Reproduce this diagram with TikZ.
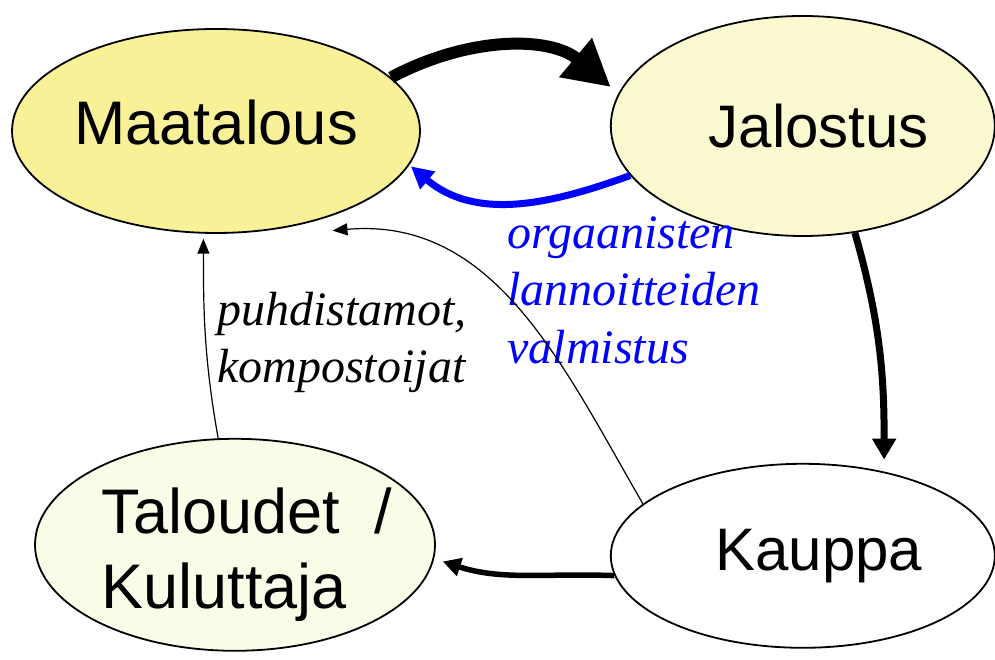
\documentclass[tikz,border=0pt]{standalone}
\usepackage{fontspec}
\setmainfont{Liberation Serif}
\setsansfont{Liberation Sans}
\usepackage{xcolor}
\usetikzlibrary{arrows.meta, positioning, calc, shapes.geometric}

\definecolor{farmfill}{RGB}{248,241,152}
\definecolor{procfill}{RGB}{251,249,208}
\definecolor{homefill}{RGB}{250,252,232}

\begin{document}
\begin{tikzpicture}[
		x=1pt, y=1pt,
		node distance=20pt and 20pt,
		sector/.style={ellipse, draw=black, line width=1.8pt, inner sep=0pt, align=center, font=\sffamily\fontsize{60}{75}\selectfont},
		note/.style={inner sep=0pt, align=left, font=\rmfamily\itshape\fontsize{48}{57.5}\selectfont},
		heavy/.style={line width=12pt, -{Triangle[length=46pt, width=48pt]}},
		flow/.style={line width=7pt, -{Triangle[length=22pt, width=22pt]}},
		thinflow/.style={line width=1.2pt, -{Triangle[length=15pt, width=12pt]}}
		]
		\useasboundingbox (0,0) rectangle (995,660);
		
		% Four sectors
		\node[sector, fill=farmfill, minimum width=408pt, minimum height=204pt, text depth=17pt, font=\sffamily\fontsize{61.5}{75}\selectfont] (maa) at (216,529) {Maatalous};
		\node[sector, fill=procfill, minimum width=384pt, minimum height=220pt, right=189pt of maa, yshift=5pt] (jal) {\hspace*{32pt}Jalostus};
		\node[sector, fill=white, minimum width=384pt, minimum height=184pt, below=226pt of jal] (kau) {\hspace*{32pt}Kauppa};
		\node[sector, fill=homefill, minimum width=400pt, minimum height=212pt, left=174pt of kau, yshift=11pt, align=left, inner xsep=-20pt, inner ysep=-6pt, text height=141pt, font=\sffamily\fontsize{63}{75}\selectfont] (tal) {\hspace*{24pt}Taloudet\ \ /\\\hspace*{24pt}Kuluttaja};
		
		% Labels
		\node[note] (puh) at (342,317.5) {puhdistamot,\\kompostoijat};
		\node[note, text=blue] (org) at (634,370) {orgaanisten\\lannoitteiden\\valmistus};
		
		% Main cycle
		\draw[heavy, shorten >=10pt] (maa.17) to[out=28, in=140] (jal.170);
		\draw[flow, blue, shorten >=2pt] (jal.196) to[out=200, in=-40] (maa.350);
		\draw[flow, -{Triangle[length=21pt, width=23pt]}, shorten >=12pt] (jal.296) to[out=-74, in=90] (kau.46);
		\draw[flow, line width=5.5pt, -{Triangle[length=18pt, width=18pt]}, shorten >=9pt] (kau.186) to[out=178, in=-18] (tal.356);
		
		% Return flows
		\draw[thinflow, shorten >=5pt] (tal.99) to[out=100, in=-90] (maa.263);
		\draw[thinflow] (kau.162) to[out=120, in=5] ([yshift=-15pt]maa.324);
		
	\end{tikzpicture}
\end{document}
